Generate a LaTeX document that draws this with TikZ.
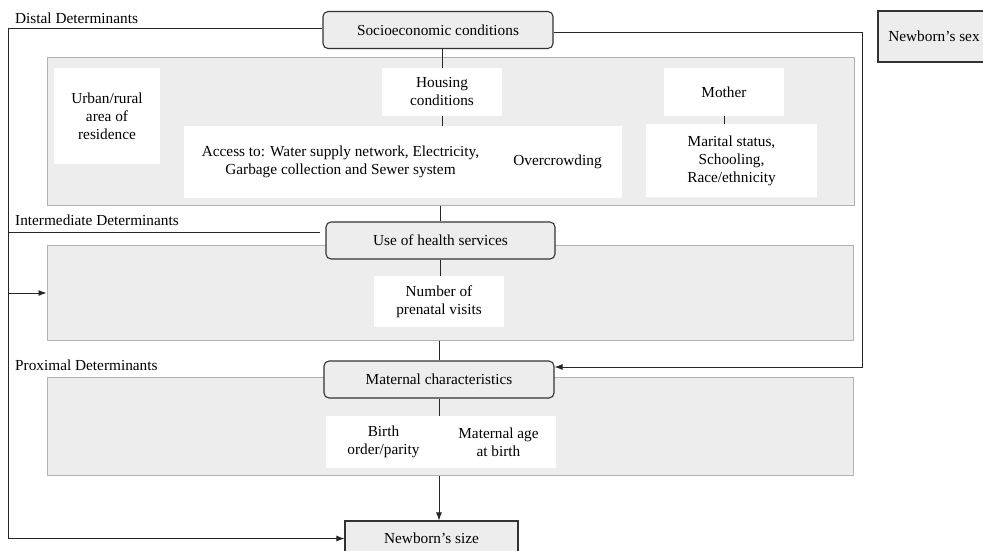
\documentclass[tikz,border=0pt]{standalone}
\usepackage{fontspec}
\setmainfont{Liberation Serif}
\usetikzlibrary{arrows.meta}
\begin{document}
\begin{tikzpicture}[x=1pt,y=-1pt,font=\fontsize{15.3}{18}\selectfont]
        \tikzstyle{panel}=[rectangle,draw=black!30,fill=black!7,line width=1pt,inner sep=0pt]
        \tikzstyle{factor}=[rectangle,rounded corners=5pt,draw=black!80,fill=black!7,line width=1.1pt,inner sep=0pt,minimum width=230pt,minimum height=37pt]
        \tikzstyle{item}=[rectangle,fill=white,inner sep=0pt,align=center]
        \tikzstyle{outcome}=[rectangle,draw=black!80,fill=black!7,line width=1.1pt,inner sep=0pt]
        \tikzstyle{edge}=[draw=black!85,line width=0.9pt]
        \tikzstyle{arrow}=[edge,-{Latex[length=8pt,width=6pt]}]
        \tikzstyle{level}=[anchor=base west,inner sep=0pt]
        \useasboundingbox (0,0) rectangle (983,550);
       % panels
         \node [panel,minimum width=807pt,minimum height=148pt] (distal) at (450.5,131) {};
         \node [panel,minimum width=806pt,minimum height=95pt] (inter) at (450,292.5) {};
         \node [panel,minimum width=806pt,minimum height=98pt] (prox) at (450,426) {};
         \node [level] (ldistal) at (15,23) {Distal Determinants};
         \node [level] (linter) at (15,225) {Intermediate Determinants};
         \node [level] (lprox) at (15,370) {Proximal Determinants};
       % factors
         \node [factor] (socio) at (438,30) {Socioeconomic conditions};
         \node [factor,minimum width=229pt] (use) at (440.5,240.5) {Use of health services};
         \node [factor] (maternal) at (439,379.5) {Maternal characteristics};
         \node [outcome,minimum width=112pt,minimum height=51pt] (sex) at (934,36.5) {Newborn's sex};
         \node [outcome,minimum width=173pt,minimum height=35pt] (size) at (431.5,538.5) {Newborn's size};
       % items
         \node [item,minimum width=106pt,minimum height=96pt] (urban) at (107,116) {Urban/rural\\area of\\residence};
         \node [item,minimum width=120pt,minimum height=48pt] (housing) at (442,92) {Housing\\conditions};
         \node [item,minimum width=438pt,minimum height=72pt] (access) at (403,162) {};
         \node [align=center,inner sep=0pt] (water) at (340.5,162) {Access to: Water supply network, Electricity,\\Garbage collection and Sewer system};
         \node [inner sep=0pt] (crowd) at (557.5,162) {Overcrowding};
         \node [item,minimum width=120pt,minimum height=48pt] (mother) at (724,92) {Mother};
         \node [item,minimum width=171pt,minimum height=73pt] (marital) at (731.5,160.5) {Marital status,\\Schooling,\\Race/ethnicity};
         \node [item,minimum width=130pt,minimum height=51pt] (visits) at (439,301.5) {Number of\\prenatal visits};
         \node [item,minimum width=115pt,minimum height=52pt] (birth) at (383.5,442) {Birth\\order/parity};
         \node [item,minimum width=115pt,minimum height=52pt] (age) at (498.5,442) {Maternal age\\at birth};
       % connectors
         \coordinate (ltop) at (8,28);
         \coordinate (lmid) at (8,293);
         \coordinate (lint) at (8,232);
         \coordinate (rtop) at (862,32);
         \coordinate (rbot) at (862,367);
         \path[edge] (ltop) -- (ltop -| socio.west);
         \path[arrow] (ltop) |- (size.west);
         \path[arrow] (lmid) -- (lmid -| inter.west);
         \path[edge,shorten >=5pt] (lint) -- (lint -| use.west);
         \path[arrow] (rtop -| socio.east) -- (rtop) -- (rbot) -- (rbot -| maternal.east);
         \path[edge] (housing.north |- socio.south) -- (housing.north);
         \path[edge] (housing.south) -- (housing.south |- access.north);
         \path[edge] (mother.south) -- (mother.south |- marital.north);
         \path[edge] (use.north |- distal.south) -- (use.north);
         \path[edge] (use.south) -- (use.south |- visits.north);
         \path[edge] (maternal.north |- inter.south) -- (maternal.north);
         \path[edge] (maternal.south) -- (maternal.south |- birth.north);
         \path[arrow] (maternal.south |- prox.south) -- (maternal.south |- size.north);
      \end{tikzpicture}
\end{document}
